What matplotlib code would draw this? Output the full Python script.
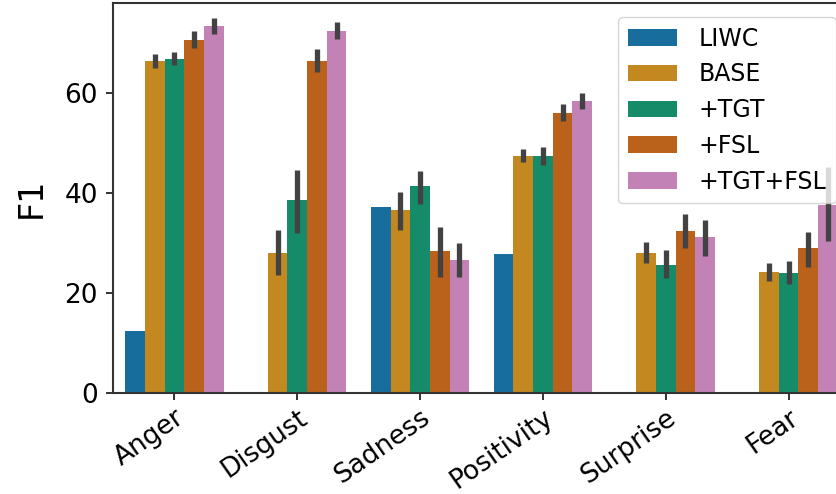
import numpy as np
import matplotlib
matplotlib.use("Agg")
import matplotlib.pyplot as plt
import seaborn as sns

categories = ["Anger", "Disgust", "Sadness", "Positivity", "Surprise", "Fear"]
models = ["LIWC", "BASE", "+TGT", "+FSL", "+TGT+FSL"]

# mean F1 per model, per category (nan = no bar)
liwc = [12.4, np.nan, 37.1, 27.8, np.nan, np.nan]
base = [66.3, 27.9, 36.5, 47.4, 27.9, 24.1]
tgt = [66.7, 38.6, 41.3, 47.4, 25.5, 23.9]
fsl = [70.5, 66.3, 28.4, 55.9, 32.4, 28.9]
tgt_fsl = [73.3, 72.3, 26.6, 58.4, 31.2, 37.5]

# confidence interval ends (LIWC has none)
base_lo = [65.0, 23.5, 32.5, 46.2, 25.9, 22.3]
base_hi = [67.7, 32.5, 40.1, 48.7, 30.1, 25.9]
tgt_lo = [65.5, 31.9, 37.7, 45.5, 23.0, 21.8]
tgt_hi = [68.1, 44.5, 44.3, 49.1, 28.5, 26.3]
fsl_lo = [69.0, 64.1, 23.2, 54.3, 28.9, 25.2]
fsl_hi = [72.3, 68.7, 33.1, 57.7, 35.7, 32.2]
tgt_fsl_lo = [71.8, 70.7, 23.1, 56.8, 27.3, 30.4]
tgt_fsl_hi = [74.9, 74.1, 29.9, 60.0, 34.5, 45.1]

values = [liwc, base, tgt, fsl, tgt_fsl]
lows = [None, base_lo, tgt_lo, fsl_lo, tgt_fsl_lo]
highs = [None, base_hi, tgt_hi, fsl_hi, tgt_fsl_hi]

colors = [sns.desaturate(c, 0.75) for c in sns.color_palette("colorblind", 5)]

fig = plt.figure(figsize=(8.37, 4.94), dpi=100)
ax = fig.add_axes([0.135, 0.2045, 0.8805, 0.7895])

x = np.arange(len(categories))
w = 0.8 / len(models)
for i, m in enumerate(models):
    pos = x - 0.4 + w * (i + 0.5)
    ax.bar(pos, values[i], width=w, color=colors[i], label=m, linewidth=0)
    if lows[i] is not None:
        ax.vlines(pos, lows[i], highs[i], color=".26", linewidth=3.8, zorder=3)

ax.set_xlim(-0.5, len(categories) - 0.5)
ax.set_ylim(0, 78)
ax.set_yticks([0, 20, 40, 60])
ax.set_xticks(x)
ax.set_xticklabels(categories, rotation=35, ha="right", rotation_mode="anchor")
ax.tick_params(labelsize=19, length=5, width=1.4, color=".2")
ax.tick_params(axis="y", pad=6)
for s in ax.spines.values():
    s.set_linewidth(1.5)
    s.set_color(".2")
ax.set_ylabel("F1", fontsize=24, labelpad=12)

ax.legend(loc="upper right", fontsize=17, labelspacing=0.5, handlelength=2.1,
          handletextpad=0.9, borderaxespad=0.6)

fig.savefig("out.png", dpi=100)
